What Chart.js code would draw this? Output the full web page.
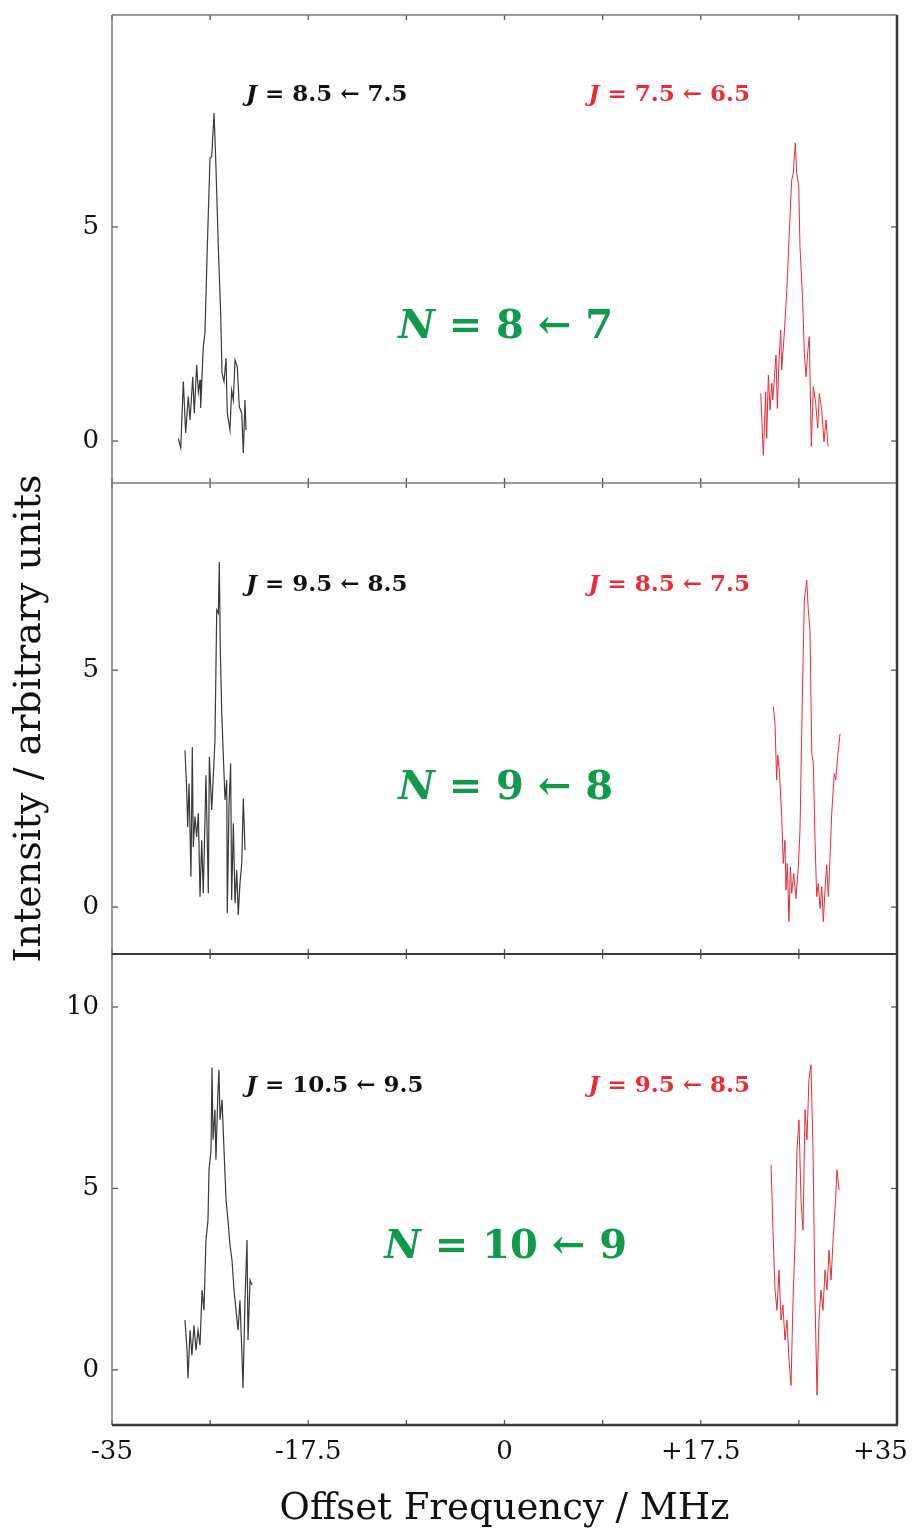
<!DOCTYPE html>
<html>
<head>
<meta charset="utf-8">
<script src="https://cdn.jsdelivr.net/npm/chart.js@4.4.1/dist/chart.umd.min.js"></script>
<style>
  html, body { margin: 0; padding: 0; background: #fff; }
  #wrap { width: 914px; height: 1530px; }
</style>
</head>
<body>
<div id="wrap"><canvas id="spectra" width="914" height="1530"></canvas></div>
<script>
// offset frequency (MHz) and intensity
const p1BlackX = [-29.09,-28.87,-28.64,-28.43,-28.20,-28.04,-27.80,-27.66,-27.45,-27.30,-27.15,-27.09,-26.86,-26.71,-26.50,-26.26,-26.11,-25.90,-25.75,-25.52,-25.31,-25.19,-25.01,-24.83,-24.72,-24.48,-24.33,-24.18,-24.03,-23.83,-23.65,-23.43,-23.29,-23.14,-23.05];
const p1BlackY = [0.06,-0.16,1.39,0.19,1.04,0.49,1.50,0.65,1.78,1.15,1.43,0.77,2.20,2.52,4.54,6.61,6.64,7.66,6.57,4.54,2.99,1.59,1.39,1.94,0.65,0.26,1.19,0.96,1.89,1.74,0.80,0.65,-0.28,0.96,0.26];
const p1RedX = [22.85,23.08,23.29,23.38,23.53,23.68,23.83,23.92,24.06,24.21,24.33,24.48,24.63,24.72,24.95,25.17,25.40,25.61,25.75,25.93,26.06,26.24,26.35,26.59,26.74,26.89,27.04,27.18,27.36,27.54,27.75,27.93,28.07,28.29,28.49,28.67,28.85];
const p1RedY = [1.11,-0.33,1.15,0.06,1.54,0.72,1.35,0.96,1.46,2.01,0.76,1.89,2.59,1.66,2.52,3.49,4.89,6.10,6.25,6.96,6.25,5.94,4.54,3.25,2.05,1.50,2.09,2.44,-0.13,1.27,0.88,0.30,1.11,0.72,-0.02,0.49,-0.13];

const p2BlackX = [-28.49,-28.34,-28.25,-28.13,-27.96,-27.84,-27.75,-27.60,-27.45,-27.30,-27.15,-27.00,-26.86,-26.62,-26.41,-26.32,-26.11,-25.97,-25.82,-25.66,-25.52,-25.43,-25.34,-25.22,-25.07,-24.92,-24.77,-24.72,-24.57,-24.42,-24.33,-24.18,-24.03,-23.88,-23.74,-23.59,-23.43,-23.29,-23.14];
const p2BlackY = [3.31,2.47,1.69,2.61,0.64,3.38,1.27,1.91,1.48,1.98,0.22,1.41,0.29,2.78,0.29,3.17,2.05,2.75,3.52,6.27,6.20,7.28,5.42,4.16,3.17,2.26,2.68,-0.13,2.12,3.03,0.15,1.77,0.08,0.78,-0.17,0.50,0.92,2.29,1.20];
const p2RedX = [23.97,24.12,24.27,24.36,24.51,24.72,24.86,25.01,25.10,25.22,25.37,25.49,25.61,25.79,25.99,26.20,26.35,26.56,26.74,26.95,27.09,27.24,27.40,27.54,27.69,27.84,27.98,28.14,28.29,28.43,28.58,28.73,28.88,29.03,29.18,29.41,29.54,29.71,29.92];
const p2RedY = [4.23,3.88,2.68,3.21,2.89,1.91,0.92,1.41,0.36,0.92,-0.31,0.85,0.29,0.71,0.18,0.85,1.62,4.44,6.48,6.90,6.27,5.84,3.24,3.03,1.41,0.22,0.50,-0.03,0.43,-0.31,0.36,0.89,0.22,1.06,1.98,2.82,2.68,3.17,3.66];

const p3BlackX = [-28.49,-28.31,-28.22,-28.04,-27.87,-27.69,-27.51,-27.33,-27.15,-26.97,-26.80,-26.62,-26.44,-26.35,-26.17,-26.08,-25.99,-25.82,-25.73,-25.55,-25.46,-25.37,-25.19,-25.01,-24.83,-24.66,-24.48,-24.30,-24.12,-23.94,-23.76,-23.59,-23.41,-23.32,-23.14,-22.96,-22.87,-22.69,-22.52];
const p3BlackY = [1.37,0.54,-0.23,1.09,0.40,1.23,0.54,1.09,0.68,2.20,1.64,3.58,4.13,5.51,6.06,8.33,6.34,7.17,5.79,7.72,8.27,6.89,7.44,6.06,4.68,4.13,3.44,3.02,2.20,1.64,1.09,1.92,0.40,-0.51,1.92,3.58,0.82,2.47,2.34];
const p3RedX = [23.77,23.94,24.12,24.30,24.48,24.66,24.83,25.01,25.19,25.37,25.55,25.73,25.91,26.08,26.26,26.44,26.62,26.80,26.97,27.15,27.33,27.51,27.69,27.87,28.04,28.22,28.40,28.58,28.76,28.94,29.12,29.30,29.47,29.65,29.83];
const p3RedY = [5.65,3.85,2.20,1.64,2.75,1.37,1.78,0.82,1.37,0.26,-0.43,1.92,3.58,6.06,6.89,4.68,3.85,7.17,6.34,8.00,8.41,6.06,1.92,-0.70,1.37,2.20,1.64,2.75,2.20,3.30,2.47,3.58,4.40,5.51,4.96];

// axes
const xTickValues = [-35, -17.5, 0, 17.5, 35];
const xTickLabels = ['-35', '-17.5', '0', '+17.5', '+35'];
const yTicksTop = [0, 5];
const yTicksMid = [0, 5];
const yTicksBottom = [0, 5, 10];

// transition labels
const jLabelsBlack = ['8.5 \u2190 7.5', '9.5 \u2190 8.5', '10.5 \u2190 9.5'];
const jLabelsRed = ['7.5 \u2190 6.5', '8.5 \u2190 7.5', '9.5 \u2190 8.5'];
const nLabels = ['8 \u2190 7', '9 \u2190 8', '10 \u2190 9'];

const BLACK = '#3a3a3a';
const RED = '#ec2a35';
const GREEN = '#109a4c';
const SERIF = '"DejaVu Serif", serif';

const panelIds = ['y1', 'y2', 'y3'];
// where the labels sit, in data units of each panel
const labelPos = {
    blackX: -23.05,
    redX: 21.9,
    nX: 0.1,
    jY: [8.08, 6.79, 7.83],
    nY: [2.66, 2.49, 3.36]
};

function toPoints(xs, ys) {
    return xs.map((x, i) => ({ x: x, y: ys[i] }));
}

function trace(xs, ys, color, axis) {
    return {
        data: toPoints(xs, ys),
        borderColor: color,
        borderWidth: color === RED ? 1 : 1.2,
        pointRadius: 0,
        tension: 0,
        yAxisID: axis
    };
}

function panelAxis(min, max, ticks, weight, withTitle) {
    return {
        type: 'linear',
        position: 'left',
        stack: 'panels',
        stackWeight: weight,
        min: min,
        max: max,
        afterBuildTicks: s => { s.ticks = ticks.map(v => ({ value: v })); },
        afterFit: s => { s.width = 112; s.paddingTop = 0; s.paddingBottom = 0; },
        ticks: {
            padding: 13,
            color: '#111',
            font: { family: SERIF, size: 26 },
            callback: v => String(v)
        },
        grid: { display: false, drawTicks: false },
        border: { display: false },
        title: {
            display: withTitle,
            text: 'Intensity / arbitrary units',
            color: '#111',
            font: { family: SERIF, size: 38 },
            padding: { top: 7, bottom: 0 }
        }
    };
}

function line(ctx, x1, y1, x2, y2) {
    ctx.beginPath();
    ctx.moveTo(x1, y1);
    ctx.lineTo(x2, y2);
    ctx.stroke();
}

const framePlugin = {
    id: 'frame',
    afterDatasetsDraw(chart) {
        const { ctx, chartArea, scales } = chart;
        const { left, right, top, bottom } = chartArea;
        const xs = scales.x;
        ctx.save();

        // tick marks pointing into each panel
        ctx.strokeStyle = '#555';
        ctx.lineWidth = 1.3;
        panelIds.forEach(id => {
            const s = scales[id];
            s.ticks.forEach(t => {
                const y = s.getPixelForValue(t.value);
                line(ctx, left, y, left + 6, y);
                line(ctx, right - 6, y, right, y);
            });
            xs.ticks.forEach(t => {
                const x = xs.getPixelForValue(t.value);
                line(ctx, x, s.top, x, s.top + 5);
                line(ctx, x, s.bottom - 5, x, s.bottom);
            });
        });

        // frame
        ctx.strokeStyle = '#7a7a7a';
        ctx.lineWidth = 1.5;
        line(ctx, left, top, right, top);
        line(ctx, left, top, left, bottom);
        line(ctx, left, scales.y1.bottom, right, scales.y1.bottom);
        ctx.strokeStyle = '#3c3c3c';
        ctx.lineWidth = 2;
        line(ctx, left, scales.y2.bottom, right, scales.y2.bottom);
        ctx.lineWidth = 2.5;
        line(ctx, left, bottom, right + 1, bottom);
        line(ctx, right, top, right, bottom);
        ctx.restore();
    }
};

// draws "J = a ← b" with an italic J, aligned left or right at x
function drawJ(ctx, text, x, y, color, alignRight) {
    const fJ = 'italic bold 23px ' + SERIF;
    const fRest = 'bold 23px ' + SERIF;
    ctx.font = fJ;
    const wJ = ctx.measureText('J').width;
    ctx.font = fRest;
    const rest = ' = ' + text;
    const wRest = ctx.measureText(rest).width;
    let x0 = alignRight ? x - wJ - wRest : x;
    ctx.fillStyle = color;
    ctx.textBaseline = 'middle';
    ctx.textAlign = 'left';
    ctx.font = fJ;
    ctx.fillText('J', x0, y);
    ctx.font = fRest;
    ctx.fillText(rest, x0 + wJ, y);
}

function drawN(ctx, text, cx, y) {
    const fN = 'italic bold 40px ' + SERIF;
    const fRest = 'bold 40px ' + SERIF;
    ctx.font = fN;
    const wN = ctx.measureText('N').width;
    ctx.font = fRest;
    const rest = ' = ' + text;
    const wRest = ctx.measureText(rest).width;
    const x0 = cx - (wN + wRest) / 2;
    ctx.fillStyle = GREEN;
    ctx.textBaseline = 'middle';
    ctx.textAlign = 'left';
    ctx.font = fN;
    ctx.fillText('N', x0, y);
    ctx.font = fRest;
    ctx.fillText(rest, x0 + wN, y);
}

const labelPlugin = {
    id: 'transitions',
    afterDraw(chart) {
        const { ctx, scales } = chart;
        const xs = scales.x;
        ctx.save();
        panelIds.forEach((id, i) => {
            const s = scales[id];
            const jy = s.getPixelForValue(labelPos.jY[i]);
            drawJ(ctx, jLabelsBlack[i], xs.getPixelForValue(labelPos.blackX), jy, '#111', false);
            drawJ(ctx, jLabelsRed[i], xs.getPixelForValue(labelPos.redX), jy, RED, true);
            drawN(ctx, nLabels[i], xs.getPixelForValue(labelPos.nX), s.getPixelForValue(labelPos.nY[i]));
        });
        ctx.restore();
    }
};

document.addEventListener('DOMContentLoaded', () => {
    const ctx = document.getElementById('spectra').getContext('2d');

    const datasets = [
        trace(p1BlackX, p1BlackY, BLACK, 'y1'),
        trace(p1RedX, p1RedY, RED, 'y1'),
        trace(p2BlackX, p2BlackY, BLACK, 'y2'),
        trace(p2RedX, p2RedY, RED, 'y2'),
        trace(p3BlackX, p3BlackY, BLACK, 'y3'),
        trace(p3RedX, p3RedY, RED, 'y3')
    ];

    new Chart(ctx, {
        type: 'line',
        data: { datasets: datasets },
        options: {
            responsive: false,
            animation: false,
            layout: { padding: { top: 15, right: 17, left: 0, bottom: 0 } },
            plugins: { legend: { display: false }, tooltip: { enabled: false } },
            scales: {
                x: {
                    type: 'linear',
                    min: -35,
                    max: 35,
                    afterFit: s => { s.height = 105; s.paddingLeft = 0; s.paddingRight = 0; },
                    ticks: {
                        stepSize: 8.75,
                        autoSkip: false,
                        maxRotation: 0,
                        padding: 12,
                        color: '#111',
                        font: { family: SERIF, size: 26 },
                        callback: v => {
                            const i = xTickValues.indexOf(v);
                            if (i < 0) return '';
                            // the last label sits a little inside the right edge
                            return i === xTickLabels.length - 1 ? xTickLabels[i] + '\u2007\u2007' : xTickLabels[i];
                        }
                    },
                    grid: { display: false, drawTicks: false },
                    border: { display: false },
                    title: {
                        display: true,
                        text: 'Offset Frequency / MHz',
                        color: '#111',
                        font: { family: SERIF, size: 37 },
                        padding: { top: 0, bottom: -2 }
                    }
                },
                // stacked from the bottom up: last one ends on top
                y3: panelAxis(-1.52, 11.46, yTicksBottom, 471, false),
                y2: panelAxis(-0.99, 8.95, yTicksMid, 471, true),
                y1: panelAxis(-0.98, 9.95, yTicksTop, 468, false)
            }
        },
        plugins: [framePlugin, labelPlugin]
    });
});
</script>
</body>
</html>
